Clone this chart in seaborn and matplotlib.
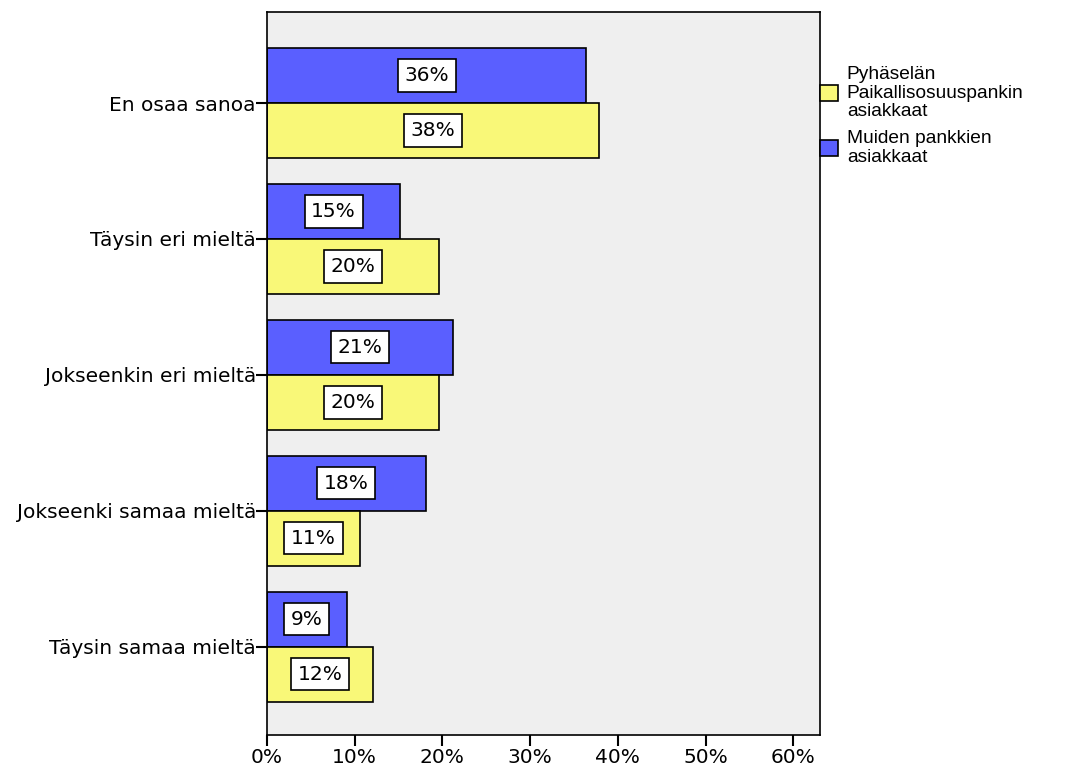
import matplotlib
matplotlib.use("Agg")
import matplotlib.pyplot as plt
import seaborn as sns
import pandas as pd

categories = ["En osaa sanoa", "Täysin eri mieltä", "Jokseenkin eri mieltä",
              "Jokseenki samaa mieltä", "Täysin samaa mieltä"]
group_other = "Muiden pankkien\nasiakkaat"
group_local = "Pyhäselän\nPaikallisosuuspankin\nasiakkaat"
values_other = [36.4, 15.2, 21.2, 18.1, 9.1]
values_local = [37.9, 19.6, 19.6, 10.6, 12.1]
x_ticks = [0, 10, 20, 30, 40, 50, 60]

df = pd.DataFrame({
    "kategoria": categories * 2,
    "ryhmä": [group_other] * len(categories) + [group_local] * len(categories),
    "osuus": values_other + values_local,
})

sns.set_theme(style="white")
plt.rcParams["font.family"] = ["DejaVu Sans"]
plt.rcParams["text.color"] = "black"
plt.rcParams["xtick.color"] = "black"
plt.rcParams["ytick.color"] = "black"

FS = 14.5
palette = {group_other: "#5a5fff", group_local: "#f9f878"}

fig = plt.figure(figsize=(10.71, 7.75), dpi=100)
ax = fig.add_axes([0.2493, 0.0516, 0.5163, 0.9329])
sns.barplot(data=df, y="kategoria", x="osuus", hue="ryhmä",
            hue_order=[group_other, group_local], order=categories,
            palette=palette, orient="h", width=0.81, gap=0,
            edgecolor="black", linewidth=1.2, saturation=1, ax=ax)

ax.set_facecolor("#efefef")
ax.set_xlim(0, 63.05)
ax.set_ylim(4.65, -0.67)
ax.set_xticks(x_ticks)
ax.set_xticklabels([f"{t}%" for t in x_ticks], fontsize=FS)
ax.tick_params(axis="y", labelsize=FS, length=8, width=1.5, left=True, pad=0)
ax.tick_params(axis="x", length=8, width=1.5, bottom=True, pad=1)
ax.set_xlabel("")
ax.set_ylabel("")
for s in ax.spines.values():
    s.set_color("black")
    s.set_linewidth(1.2)

for container in ax.containers:
    for patch in container:
        w = patch.get_width()
        yc = patch.get_y() + patch.get_height() / 2
        ax.text(w / 2, yc, f"{round(w):.0f}%", ha="center", va="center",
                fontsize=FS, color="black",
                bbox=dict(boxstyle="square,pad=0.33", fc="white", ec="black", lw=1.2))

handles, labels = ax.get_legend_handles_labels()
leg = ax.legend(handles[::-1], labels[::-1], loc="upper left", bbox_to_anchor=(1.0, 0.925),
                frameon=False, prop={"family": "Liberation Sans", "size": 13.8},
                handlelength=0.95, handleheight=0.95,
                handletextpad=0.45, borderaxespad=0, borderpad=0, labelspacing=0.55)
for t in leg.get_texts():
    t.set_linespacing(1.1)

fig.savefig("out.png", dpi=100)
